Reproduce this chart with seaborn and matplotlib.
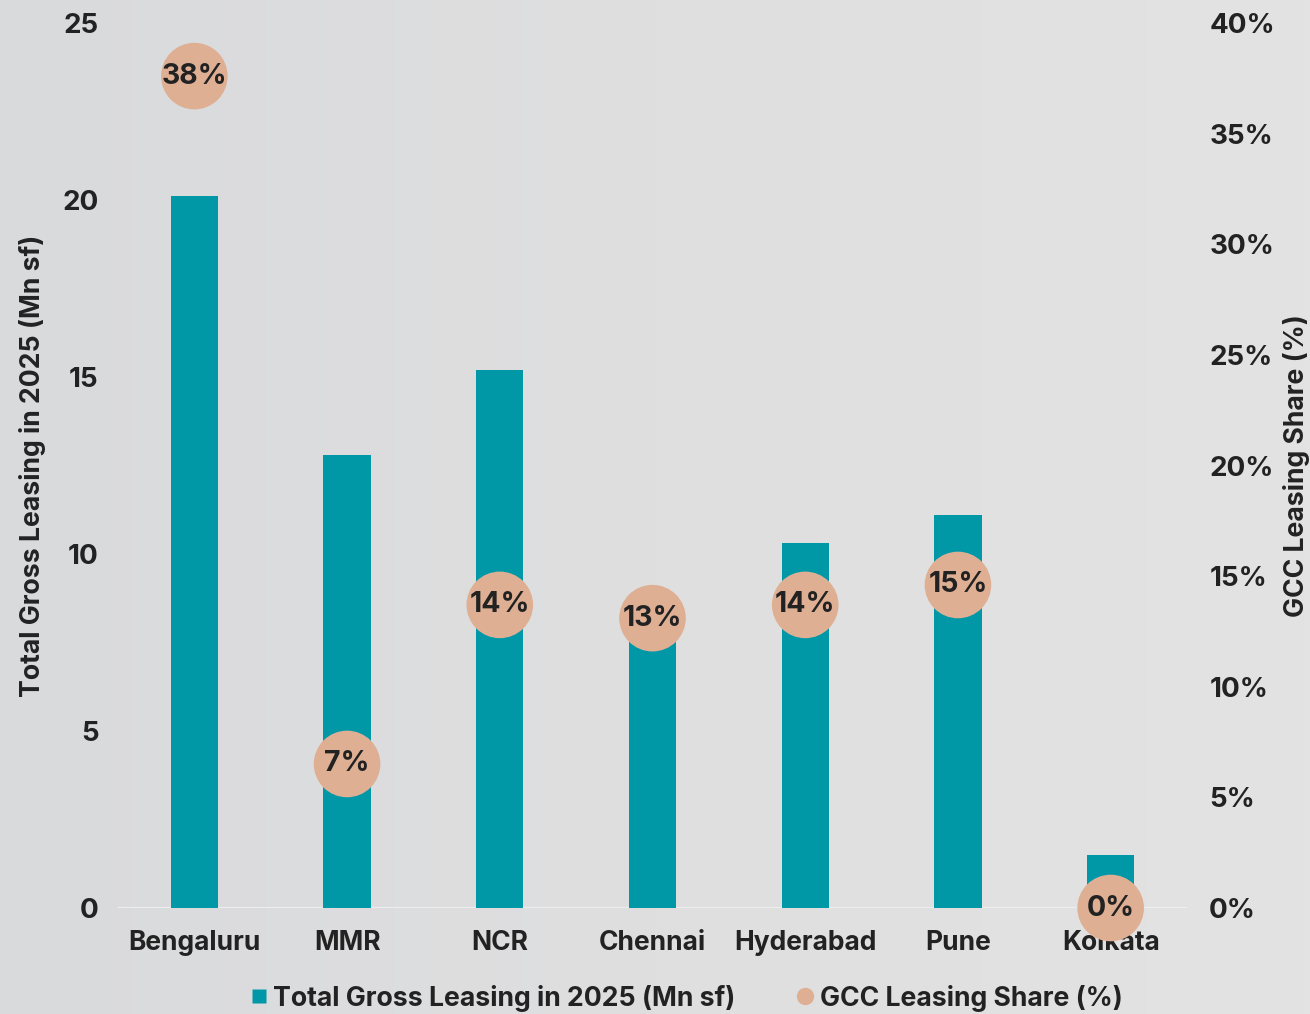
import numpy as np
import pandas as pd
import matplotlib
matplotlib.use("Agg")
import matplotlib.pyplot as plt
from matplotlib.lines import Line2D
import seaborn as sns

# City-level office leasing, 2025
cities = ["Bengaluru", "MMR", "NCR", "Chennai", "Hyderabad", "Pune", "Kolkata"]
gross_leasing_mn_sf = [20.1, 12.8, 15.2, 8.6, 10.3, 11.1, 1.5]
gcc_share_pct = [37.6, 6.51, 13.7, 13.1, 13.7, 14.6, 0.0]

left_ticks = [0, 5, 10, 15, 20, 25]
right_ticks = [0, 5, 10, 15, 20, 25, 30, 35, 40]

bar_label = "Total Gross Leasing in 2025 (Mn sf)"
share_label = "GCC Leasing Share (%)"

TEAL = "#0097A7"
PEACH = "#DFAF94"
INK = "#222222"
BG = "#E0E0E1"

sns.set_theme(style="white")
plt.rcParams["font.family"] = ["Inter", "DejaVu Sans"]
plt.rcParams["font.weight"] = "bold"

df = pd.DataFrame({"city": cities, "leasing": gross_leasing_mn_sf, "share": gcc_share_pct})

fig = plt.figure(figsize=(13.1, 10.14), dpi=100)
fig.patch.set_facecolor(BG)

# soft background shading
bg_ax = fig.add_axes([0, 0, 1, 1], zorder=-10)
grad = np.linspace(0, 1, 256)[None, :]
bg_ax.imshow(grad, aspect="auto", cmap=matplotlib.colors.LinearSegmentedColormap.from_list(
    "bg", ["#D9DADC", "#DFDFE0", "#E3E3E3"]), extent=[0, 1, 0, 1])
bg_ax.axis("off")

ax = fig.add_axes([118 / 1310, 106 / 1014, (1187 - 118) / 1310, (908 - 23) / 1014])
ax.set_facecolor("none")

sns.barplot(data=df, x="city", y="leasing", color=TEAL, width=0.31,
            saturation=1, ax=ax, zorder=2, edgecolor="none", linewidth=0)
ax.axhline(0, color="#EDEDED", lw=1.6, zorder=1)

ax.set_ylim(0, 25)
ax.set_yticks(left_ticks)
ax.set_xlim(-0.5, len(cities) - 0.5)
ax.set_ylabel(bar_label, fontsize=19.2, fontweight="bold", color=INK)
ax.yaxis.set_label_coords(-0.067, 0.5)
ax.set_xlabel("")
ax.tick_params(axis="y", length=0, pad=14, labelsize=20, labelcolor=INK)
ax.tick_params(axis="x", length=0, pad=16, labelsize=19, labelcolor=INK)
for lbl in ax.get_xticklabels() + ax.get_yticklabels():
    lbl.set_fontweight("bold")
for s in ax.spines.values():
    s.set_visible(False)

ax2 = ax.twinx()
sns.scatterplot(data=df, x="city", y="share", color=PEACH, s=2300,
                edgecolor="none", linewidth=0, ax=ax2, clip_on=False, zorder=3)
ax2.set_ylim(0, 40)
ax2.set_yticks(right_ticks)
ax2.set_yticklabels([f"{t}%" for t in right_ticks])
ax2.tick_params(axis="y", length=0, pad=16, labelsize=20, labelcolor=INK)
for lbl in ax2.get_yticklabels():
    lbl.set_fontweight("bold")
ax2.set_ylabel(share_label, fontsize=19.2, fontweight="bold", color=INK, rotation=90)
ax2.yaxis.set_label_coords(1.090, 0.5)
for s in ax2.spines.values():
    s.set_visible(False)

for i, v in enumerate(gcc_share_pct):
    ax2.text(i, v, f"{v:.0f}%", ha="center", va="center", fontsize=20.5,
             fontweight="bold", color=INK, zorder=4, clip_on=False)

handles = [
    Line2D([], [], marker="s", linestyle="none", markersize=10,
           markerfacecolor=TEAL, markeredgecolor="none"),
    Line2D([], [], marker="o", linestyle="none", markersize=12.5,
           markerfacecolor=PEACH, markeredgecolor="none"),
]
leg = fig.legend(handles, [bar_label, share_label], loc="center",
                 bbox_to_anchor=(0.522, 16 / 1014), ncol=2, frameon=False,
                 handletextpad=0.05, columnspacing=2.1, handlelength=1.0,
                 prop={"size": 19.2, "weight": "bold"})
for t in leg.get_texts():
    t.set_color(INK)

fig.savefig("out.png", dpi=100, facecolor=fig.get_facecolor())
